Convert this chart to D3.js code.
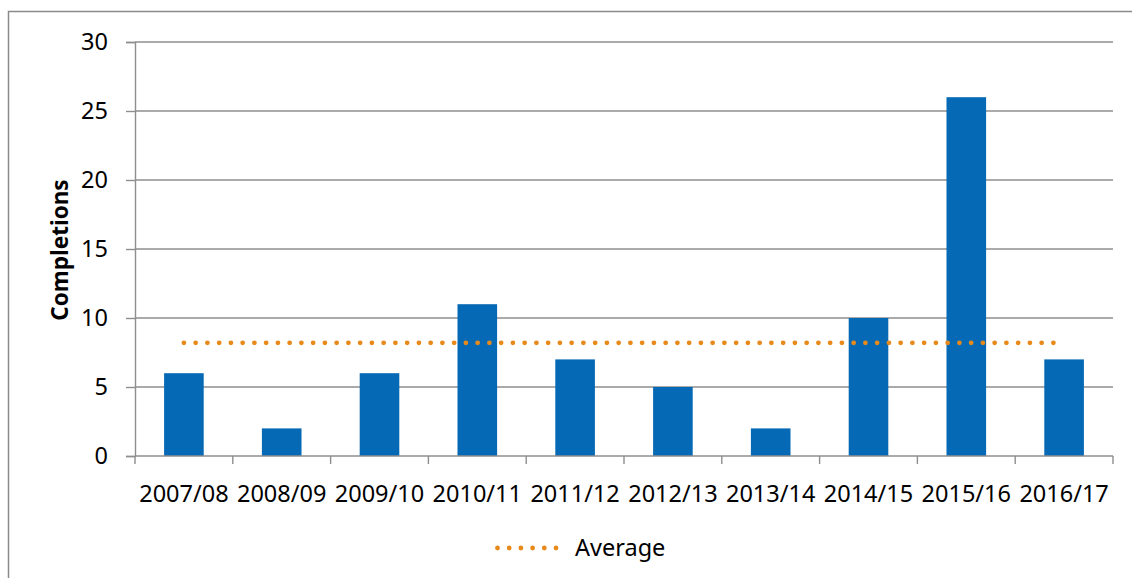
<!DOCTYPE html>
<html>
<head>
<meta charset="utf-8">
<script src="https://cdn.jsdelivr.net/npm/d3@7"></script>
<style>
  html, body { margin: 0; padding: 0; background: #fff; }
  svg { display: block; font-family: "Noto Sans", "Open Sans", sans-serif; }
</style>
</head>
<body>
<svg id="chart" width="1132" height="578"></svg>
<script>
// Completions per academic year
const years = ["2007/08", "2008/09", "2009/10", "2010/11", "2011/12",
               "2012/13", "2013/14", "2014/15", "2015/16", "2016/17"];
const completions = [6, 2, 6, 11, 7, 5, 2, 10, 26, 7];
const yTicks = [0, 5, 10, 15, 20, 25, 30];
const averageLabel = "Average";
const yTitle = "Completions";

const average = d3.mean(completions);

const svg = d3.select("#chart");
const plot = { left: 135, right: 1113, top: 42, bottom: 456 };

const x = d3.scaleBand().domain(years).range([plot.left, plot.right]).padding(0);
const y = d3.scaleLinear().domain([0, 30]).range([plot.bottom, plot.top]);

const gridColor = "#8e8e8e";
const barColor = "#0669b5";
const avgColor = "#e8891c";

// Outer chart frame
svg.append("rect")
  .attr("x", 8.5).attr("y", 11.5)
  .attr("width", 1140).attr("height", 600)
  .attr("fill", "none").attr("stroke", "#8a8a8a").attr("stroke-width", 1.5);

// Horizontal gridlines
svg.append("g").selectAll("line").data(yTicks.filter(d => d > 0)).join("line")
  .attr("x1", plot.left).attr("x2", plot.right)
  .attr("y1", d => y(d)).attr("y2", d => y(d))
  .attr("stroke", gridColor).attr("stroke-width", 1.4);

// Y axis
const yAxis = svg.append("g")
  .attr("transform", `translate(${plot.left},0)`)
  .call(d3.axisLeft(y).tickValues(yTicks).tickSize(9).tickPadding(18).tickFormat(d3.format("d")))
  .attr("font-family", null)
  .attr("font-size", null);
yAxis.select(".domain").attr("stroke", gridColor).attr("stroke-width", 1.4);
yAxis.selectAll(".tick line").attr("stroke", gridColor).attr("stroke-width", 1.4);
yAxis.selectAll(".tick text")
  .attr("fill", "#000").style("font-size", "23.5px");

// Bars
const barWidth = x.bandwidth() * 0.405;
svg.append("g").selectAll("rect").data(years).join("rect")
  .attr("x", (d) => x(d) + x.bandwidth() / 2 - barWidth / 2)
  .attr("y", (d, i) => y(completions[i]))
  .attr("width", barWidth)
  .attr("height", (d, i) => y(0) - y(completions[i]))
  .attr("fill", barColor);

// X axis with tick marks at band edges
const xAxisG = svg.append("g").attr("transform", `translate(0,${plot.bottom})`);
xAxisG.append("line")
  .attr("x1", plot.left).attr("x2", plot.right)
  .attr("stroke", gridColor).attr("stroke-width", 1.4);
const edges = years.map(d => x(d)).concat([plot.right]);
xAxisG.selectAll("line.edge").data(edges).join("line")
  .attr("class", "edge")
  .attr("x1", d => d).attr("x2", d => d)
  .attr("y1", 0).attr("y2", 8)
  .attr("stroke", gridColor).attr("stroke-width", 1.4);
xAxisG.selectAll("text").data(years).join("text")
  .attr("x", d => x(d) + x.bandwidth() / 2)
  .attr("y", 38)
  .attr("dy", "0.35em")
  .attr("text-anchor", "middle")
  .style("font-size", "23.5px")
  .attr("fill", "#000")
  .text(d => d);

// Average line across band centres
const avgLine = d3.line()
  .x(d => x(d) + x.bandwidth() / 2)
  .y(() => y(average));
svg.append("path")
  .datum(years)
  .attr("d", avgLine)
  .attr("fill", "none")
  .attr("stroke", avgColor)
  .attr("stroke-width", 4.8)
  .attr("stroke-linecap", "round")
  .attr("stroke-dasharray", "0 11.75");

// Y axis title
svg.append("text")
  .attr("transform", `translate(60,${(plot.top + plot.bottom) / 2 + 1}) rotate(-90)`)
  .attr("text-anchor", "middle")
  .attr("dy", "0.35em")
  .style("font-size", "22.5px")
  .style("font-weight", "bold")
  .attr("fill", "#000")
  .text(yTitle);

// Legend
const legend = svg.append("g").attr("transform", "translate(0,548)");
legend.append("line")
  .attr("x1", 497.5).attr("x2", 560)
  .attr("y1", 0).attr("y2", 0)
  .attr("stroke", avgColor)
  .attr("stroke-width", 4.8)
  .attr("stroke-linecap", "round")
  .attr("stroke-dasharray", "0 11.7");
legend.append("text")
  .attr("x", 575).attr("y", 0).attr("dy", "0.35em")
  .style("font-size", "23.5px")
  .attr("fill", "#000")
  .text(averageLabel);
</script>
</body>
</html>
